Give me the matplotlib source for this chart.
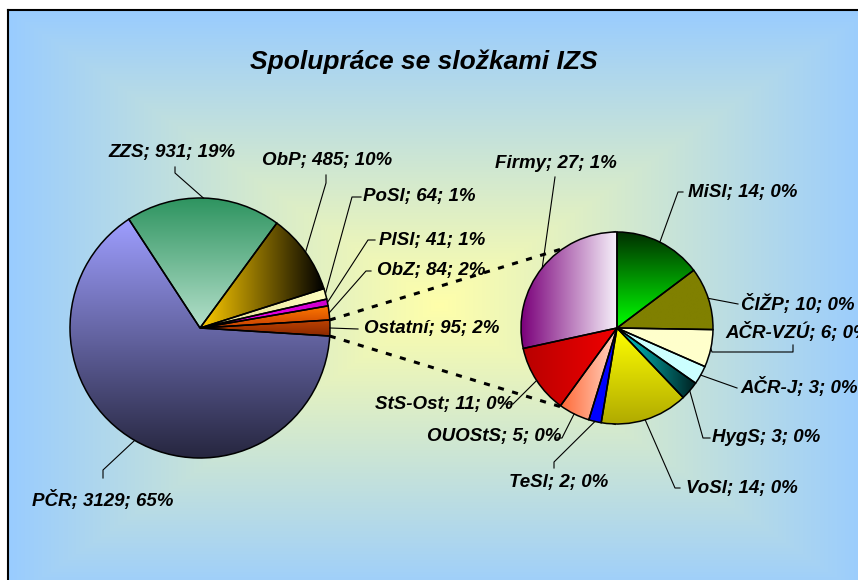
import numpy as np
import matplotlib
matplotlib.use('Agg')
import matplotlib.pyplot as plt
from matplotlib.colors import LinearSegmentedColormap, to_rgb

plt.rcParams['font.family'] = ['Liberation Sans', 'DejaVu Sans']

W, H = 858, 580

# ---- data ----
title = 'Spolupráce se složkami IZS'
main_names = ['Ostatní', 'ObZ', 'PlSl', 'PoSl', 'ObP', 'ZZS', 'PČR']
main_values = [95, 84, 41, 64, 485, 931, 3129]
other_names = ['MiSl', 'ČIŽP', 'AČR-VZÚ', 'AČR-J', 'HygS', 'VoSl', 'TeSl', 'OUOStS', 'StS-Ost', 'Firmy']
other_values = [14, 10, 6, 3, 3, 14, 2, 5, 11, 27]
total = sum(main_values)

# fills: (start colour, end colour, 'h' left->right / 'v' top->bottom)
main_fills = [('#c04400', '#8a2800', 'v'), ('#ff7a00', '#c84000', 'v'),
              ('#ff00ff', '#cc00cc', 'h'), ('#e0d890', '#ffffc0', 'h'),
              ('#ffcc00', '#000000', 'h'), ('#2e9460', '#b5e0cb', 'v'),
              ('#9e9eff', '#26263f', 'v')]
other_fills = [('#003000', '#00ff00', 'v'), ('#808000', '#808000', 'h'),
               ('#ffffcc', '#ffffcc', 'h'), ('#ccffff', '#ccffff', 'h'),
               ('#00d0d0', '#002020', 'h'), ('#ffff00', '#b0aa00', 'v'),
               ('#0000ff', '#0000ff', 'h'), ('#ff6a38', '#ffd8c8', 'h'),
               ('#b80000', '#f00000', 'h'), ('#7a007a', '#f6f0fa', 'h')]

# ---- layout (pixels, y from top) ----
main_c, main_r = (200, 328), 130
other_c, other_r = (617, 328), 96

main_label_xy = [(364, 329), (377, 271), (379, 240), (363, 197), (262, 161), (108, 153), (32, 500)]
main_leader = [[(358, 329)], [(371, 271), (366, 271)], [(375, 240), (368, 240)],
               [(361, 197), (352, 197)], [(326, 175), (326, 183)],
               [(175, 167), (175, 173)], [(103, 478), (103, 470)]]
other_label_xy = [(688, 193), (741, 304), (725, 332), (740, 387), (712, 438),
                  (686, 488), (509, 482), (427, 437), (375, 404), (495, 163)]
other_leader = [[(683, 192), (678, 192)], [(738, 304)], [(793, 345), (793, 352), (712, 352)],
                [(737, 388)], [(710, 438), (703, 438)], [(680, 488), (675, 488)],
                [(554, 468), (554, 462)], [(555, 438), (562, 438)],
                [(505, 404), (513, 404)], [(555, 177)]]


def Y(y):
    return H - y


fig = plt.figure(figsize=(W / 100, H / 100), dpi=100, facecolor='white')
ax = fig.add_axes([0, 0, 1, 1])

# background: rectangular gradient from centre
yy, xx = np.mgrid[0:H, 0:W]
t = np.maximum(np.abs(xx - 439) / 431, np.abs(yy - 305) / 295)
t = np.clip(t, 0, 1)[..., None]
bg = np.array(to_rgb('#ffffaa')) * (1 - t) + np.array(to_rgb('#99ccff')) * t
bg[(xx < 8) | (yy < 10)] = 1.0
ax.imshow(bg, extent=[0, W, 0, H], origin='upper', aspect='auto', zorder=0)
ax.plot([8, 8], [0, Y(10)], color='black', lw=1.5, zorder=1)
ax.plot([8, W], [Y(10), Y(10)], color='black', lw=1.5, zorder=1)


def fill_gradient(wedge, c0, c1, how):
    ext = wedge.get_path().get_extents()
    g = np.linspace(0, 1, 256)
    if how == 'h':
        arr = np.tile(g, (2, 1))
    else:
        arr = np.tile(g[::-1][:, None], (1, 2))
    cmap = LinearSegmentedColormap.from_list('g', [c0, c1])
    im = ax.imshow(arr, cmap=cmap, extent=[ext.x0, ext.x1, ext.y0, ext.y1],
                   origin='lower', aspect='auto', interpolation='bilinear', zorder=2)
    im.set_clip_path(wedge)
    wedge.set_facecolor('none')


wp = dict(edgecolor='black', linewidth=1.1, zorder=3)
half = main_values[0] / total * 360 / 2
main_wedges, _ = ax.pie(main_values, startangle=-half, counterclock=True,
                        center=(main_c[0], Y(main_c[1])), radius=main_r, wedgeprops=wp)
other_wedges, _ = ax.pie(other_values, startangle=90, counterclock=False,
                         center=(other_c[0], Y(other_c[1])), radius=other_r, wedgeprops=wp)

for w, f in zip(main_wedges, main_fills):
    fill_gradient(w, *f)
for w, f in zip(other_wedges, other_fills):
    fill_gradient(w, *f)

# dashed connectors from "Ostatni" slice to the second pie
ost = main_wedges[0]
for ang, ty in [(ost.theta2, other_c[1] - other_r), (ost.theta1, other_c[1] + other_r)]:
    a = np.deg2rad(ang)
    x0 = main_c[0] + main_r * np.cos(a)
    y0 = Y(main_c[1]) + main_r * np.sin(a)
    ax.plot([x0, other_c[0]], [y0, Y(ty)], color='black', lw=2.2,
            linestyle=(0, (2.0, 2.8)), zorder=1.5)


def label_slices(wedges, names, values, center, r, label_xy, leaders):
    for w, name, v, (lx, ly), pts in zip(wedges, names, values, label_xy, leaders):
        a = np.deg2rad((w.theta1 + w.theta2) / 2)
        wx = center[0] + r * np.cos(a)
        wy = Y(center[1]) + r * np.sin(a)
        xs = [p[0] for p in pts] + [wx]
        ys = [Y(p[1]) for p in pts] + [wy]
        ax.plot(xs, ys, color='black', lw=0.8, zorder=4)
        pct = round(100 * v / total)
        ax.text(lx, Y(ly), f'{name}; {v}; {pct}%', ha='left', va='center',
                fontsize=13.5, fontweight='bold', fontstyle='italic', zorder=5)


label_slices(main_wedges, main_names, main_values, main_c, main_r, main_label_xy, main_leader)
label_slices(other_wedges, other_names, other_values, other_c, other_r, other_label_xy, other_leader)

ax.text(424, Y(62), title, ha='center', va='center', fontsize=19,
        fontweight='bold', fontstyle='italic', zorder=5)

ax.set_xlim(0, W)
ax.set_ylim(0, H)
ax.set_aspect('auto')
ax.axis('off')

fig.savefig('out.png', dpi=100)
